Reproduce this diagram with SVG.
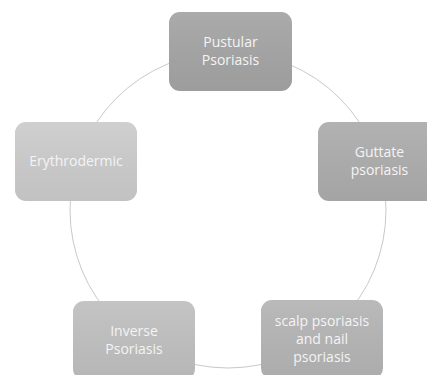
<svg xmlns="http://www.w3.org/2000/svg" width="427" height="375" viewBox="0 0 427 375">
<defs>
<linearGradient id="shade" x1="0" y1="0" x2="0" y2="1">
<stop offset="0" stop-color="#ffffff" stop-opacity="0.06"/>
<stop offset="1" stop-color="#000000" stop-opacity="0.05"/>
</linearGradient>
</defs>
<style>
.box{stroke:none}
.ov{fill:url(#shade)}
.lbl{font-family:"Open Sans","Noto Sans","Liberation Sans",sans-serif;font-size:14px;fill:#f4f4f4;text-anchor:middle}
.conn{fill:none;stroke:#c9c9c9;stroke-width:1}
</style>
<rect width="427" height="375" fill="#ffffff"/>
<g id="connectors">
<circle class="conn" cx="228" cy="210" r="158"/>
</g>
<g id="pustular">
<rect class="box" x="169" y="12" width="123" height="79" rx="11" fill="#a5a5a5"/>
<rect class="ov" x="169" y="12" width="123" height="79" rx="11"/>
<text class="lbl" x="230.5" y="47">Pustular</text>
<text class="lbl" x="230.5" y="65">Psoriasis</text>
</g>
<g id="guttate">
<rect class="box" x="318" y="122" width="123" height="79" rx="11" fill="#adadad"/>
<rect class="ov" x="318" y="122" width="123" height="79" rx="11"/>
<text class="lbl" x="379.5" y="157">Guttate</text>
<text class="lbl" x="379.5" y="175">psoriasis</text>
</g>
<g id="scalp">
<rect class="box" x="261" y="300" width="122" height="79" rx="11" fill="#b5b5b5"/>
<rect class="ov" x="261" y="300" width="122" height="79" rx="11"/>
<text class="lbl" x="322" y="326">scalp psoriasis</text>
<text class="lbl" x="322" y="344">and nail</text>
<text class="lbl" x="322" y="362">psoriasis</text>
</g>
<g id="inverse">
<rect class="box" x="73" y="301" width="122" height="79" rx="11" fill="#c0c0c0"/>
<rect class="ov" x="73" y="301" width="122" height="79" rx="11"/>
<text class="lbl" x="134" y="336">Inverse</text>
<text class="lbl" x="134" y="354">Psoriasis</text>
</g>
<g id="erythrodermic">
<rect class="box" x="15" y="122" width="122" height="79" rx="11" fill="#cccccc"/>
<rect class="ov" x="15" y="122" width="122" height="79" rx="11"/>
<text class="lbl" x="76" y="166">Erythrodermic</text>
</g>
</svg>
